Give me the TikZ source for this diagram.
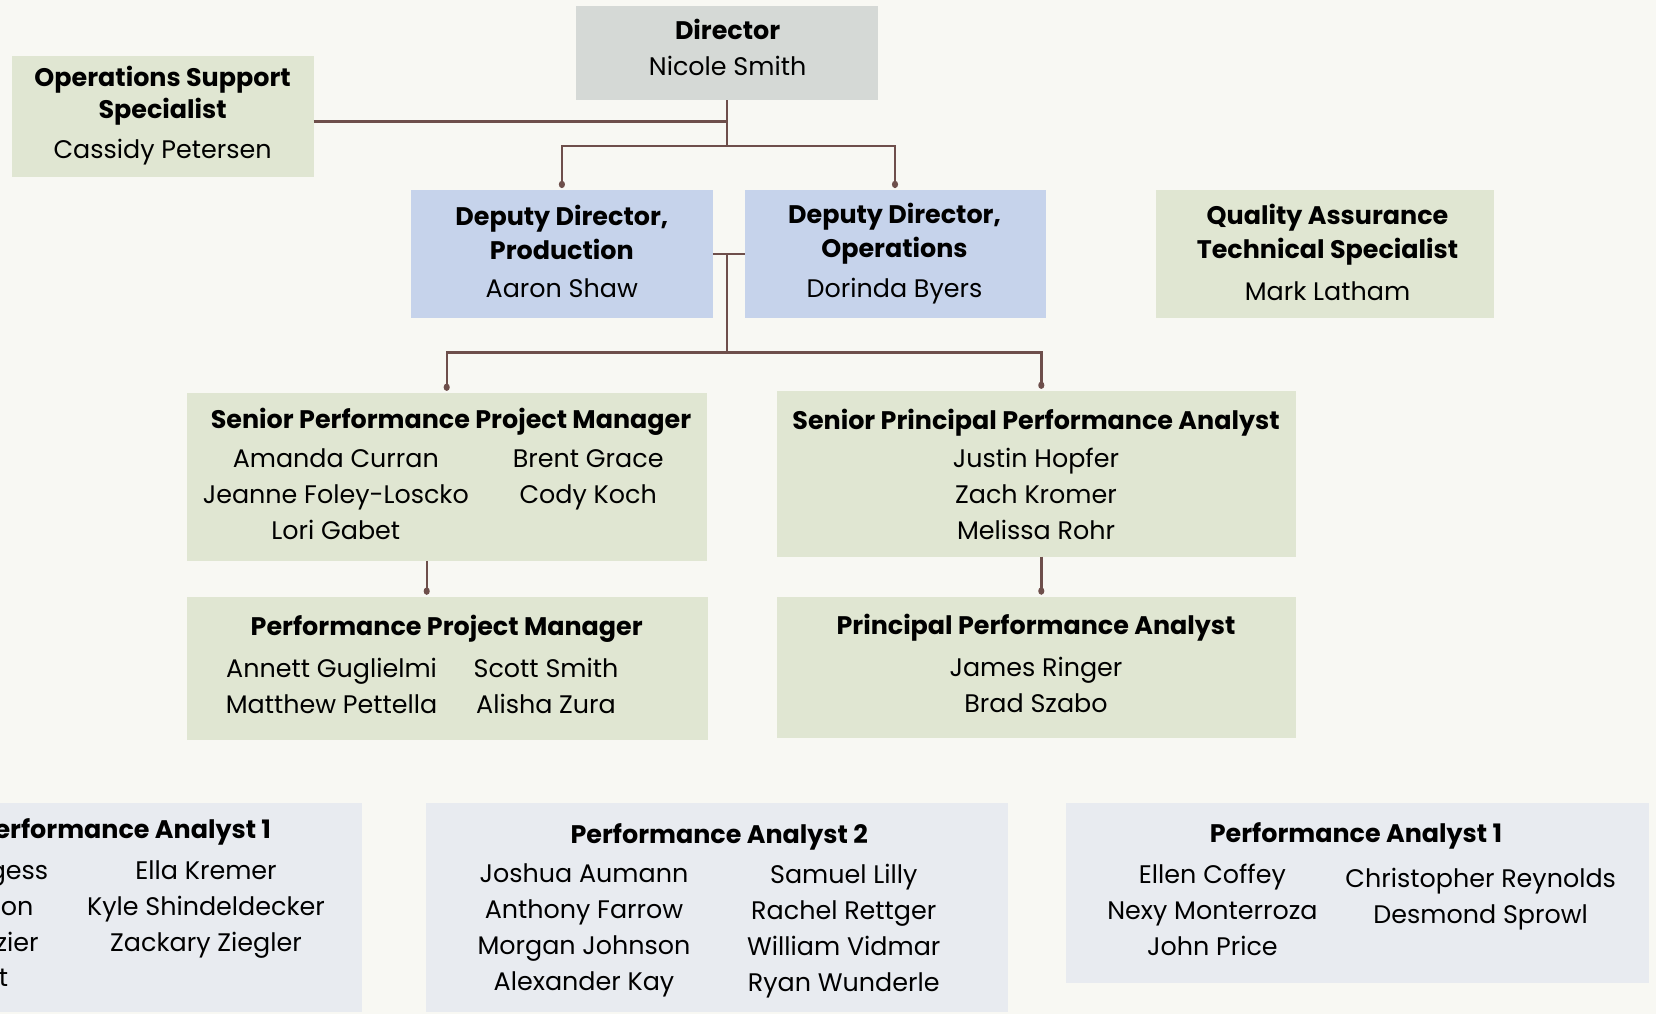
\documentclass[tikz,border=0pt]{standalone}
\usepackage{fontspec}
\setmainfont{Poppins}
\usetikzlibrary{arrows.meta}
\definecolor{bgcol}{HTML}{F8F8F3}
\definecolor{greybox}{HTML}{D5D9D6}
\definecolor{greenbox}{HTML}{E0E6D2}
\definecolor{bluebox}{HTML}{C6D3EB}
\definecolor{palebox}{HTML}{E8EBF0}
\definecolor{linkcol}{HTML}{6E4F4B}
\tikzstyle{box} = [inner sep=0pt, outer sep=0pt]
\tikzstyle{ttl} = [inner sep=0pt, anchor=mid, yshift=-1.9pt, font=\fontsize{12.7}{15}\selectfont\bfseries]
\tikzstyle{nm} = [inner sep=0pt, anchor=mid, yshift=-1.9pt, font=\fontsize{12.7}{15}\selectfont]
\tikzstyle{link} = [draw=linkcol, line width=1.2pt]
\tikzstyle{tolink} = [link, -{Circle[length=3.6pt,width=3pt]}, shorten >=1pt]

\begin{document}
\begin{tikzpicture}[x=0.5pt,y=-0.5pt]
    \useasboundingbox (0,0) rectangle (1656,1014);
    \fill[bgcol] (0,0) rectangle (1656,1014);
    \clip (0,0) rectangle (1656,1014);
    % Top level
    \node[box,fill=greybox,minimum width=151pt,minimum height=47pt] (dir) at (727,53.3) {};
    \node[ttl] (dirt) at (727.6,30.6) {Director};
    \node[nm] (dirn) at (727.6,66.5) {Nicole Smith};
    \node[box,fill=greenbox,minimum width=151pt,minimum height=60.7pt] (ops) at (162.6,116.7) {};
    \node[ttl] (opst1) at (162.6,77.1) {Operations Support};
    \node[ttl] (opst2) at (162.6,108.8) {Specialist};
    \node[nm] (opsn) at (162.6,148.9) {Cassidy Petersen};
    % Deputies
    \node[box,fill=bluebox,minimum width=151pt,minimum height=64pt] (dpl) at (561.9,254) {};
    \node[ttl] (dplt1) at (561.8,216.5) {Deputy Director,};
    \node[ttl] (dplt2) at (561.8,250.3) {Production};
    \node[nm] (dpln) at (561.8,288.3) {Aaron Shaw};
    \node[box,fill=bluebox,minimum width=150.5pt,minimum height=64pt] (dpr) at (895,254) {};
    \node[ttl] (dprt1) at (894.5,214.4) {Deputy Director,};
    \node[ttl] (dprt2) at (894.5,248.2) {Operations};
    \node[nm] (dprn) at (894.5,288.3) {Dorinda Byers};
    \node[box,fill=greenbox,minimum width=169pt,minimum height=64pt] (qa) at (1325.4,254) {};
    \node[ttl] (qat1) at (1327.5,215.4) {Quality Assurance};
    \node[ttl] (qat2) at (1327.5,249.2) {Technical Specialist};
    \node[nm] (qan) at (1327.5,291.5) {Mark Latham};
    % Senior level
    \node[box,fill=greenbox,minimum width=259.8pt,minimum height=84pt] (sppm) at (446.7,476.8) {};
    \node[ttl] (sppmt) at (451,419.3) {Senior Performance Project Manager};
    \node[nm] (sppm1) at (335.8,458.3) {Amanda Curran};
    \node[nm] (sppm2) at (335.8,494.3) {Jeanne Foley-Loscko};
    \node[nm] (sppm3) at (335.8,530.2) {Lori Gabet};
    \node[nm] (sppm4) at (588.2,458.3) {Brent Grace};
    \node[nm] (sppm5) at (588.2,494.3) {Cody Koch};
    \node[box,fill=greenbox,minimum width=259.3pt,minimum height=82.9pt] (sppa) at (1036.5,473.7) {};
    \node[ttl] (sppat) at (1036,420.3) {Senior Principal Performance Analyst};
    \node[nm] (sppa1) at (1036,458.3) {Justin Hopfer};
    \node[nm] (sppa2) at (1036,494.3) {Zach Kromer};
    \node[nm] (sppa3) at (1036,530.2) {Melissa Rohr};
    % Middle level
    \node[box,fill=greenbox,minimum width=260.4pt,minimum height=71.8pt] (ppm) at (447.2,668.5) {};
    \node[ttl] (ppmt) at (446.7,626.3) {Performance Project Manager};
    \node[nm] (ppm1) at (331.6,668.5) {Annett Guglielmi};
    \node[nm] (ppm2) at (331.6,704.4) {Matthew Pettella};
    \node[nm] (ppm3) at (546,668.5) {Scott Smith};
    \node[nm] (ppm4) at (546,704.4) {Alisha Zura};
    \node[box,fill=greenbox,minimum width=259.3pt,minimum height=70.8pt] (ppa) at (1036.5,667.4) {};
    \node[ttl] (ppat) at (1036,625.2) {Principal Performance Analyst};
    \node[nm] (ppa1) at (1036,667.5) {James Ringer};
    \node[nm] (ppa2) at (1036,703.4) {Brad Szabo};
    % Analysts
    \node[box,fill=palebox,minimum width=191.1pt,minimum height=104.7pt] (paa) at (171.1,907.3) {};
    \node[ttl,anchor=mid east] (paat) at (271.4,829) {erformance Analyst 1};
    \node[nm,anchor=mid east] (paa1) at (48.6,870.2) {gess};
    \node[nm,anchor=mid east] (paa2) at (33.8,906.1) {on};
    \node[nm,anchor=mid east] (paa3) at (39,942) {zier};
    \node[nm,anchor=mid east] (paa4) at (8.4,977) {t};
    \node[nm] (paa5) at (206,870.2) {Ella Kremer};
    \node[nm] (paa6) at (206,906.1) {Kyle Shindeldecker};
    \node[nm] (paa7) at (206,942) {Zackary Ziegler};
    \node[box,fill=palebox,minimum width=291pt,minimum height=104.7pt] (pab) at (716.5,907.3) {};
    \node[ttl] (pabt) at (719.2,834.3) {Performance Analyst 2};
    \node[nm] (pab1) at (584,873.4) {Joshua Aumann};
    \node[nm] (pab2) at (584,909.3) {Anthony Farrow};
    \node[nm] (pab3) at (584,945.2) {Morgan Johnson};
    \node[nm] (pab4) at (584,981.1) {Alexander Kay};
    \node[nm] (pab5) at (843.8,874.5) {Samuel Lilly};
    \node[nm] (pab6) at (843.8,910.4) {Rachel Rettger};
    \node[nm] (pab7) at (843.8,946.3) {William Vidmar};
    \node[nm] (pab8) at (843.8,982.2) {Ryan Wunderle};
    \node[box,fill=palebox,minimum width=291.5pt,minimum height=90.3pt] (pac) at (1357.1,892.9) {};
    \node[ttl] (pact) at (1356,833.3) {Performance Analyst 1};
    \node[nm] (pac1) at (1212.4,874.5) {Ellen Coffey};
    \node[nm] (pac2) at (1212.4,910.4) {Nexy Monterroza};
    \node[nm] (pac3) at (1212.4,946.3) {John Price};
    \node[nm] (pac4) at (1480.7,878.7) {Christopher Reynolds};
    \node[nm] (pac5) at (1480.7,914.6) {Desmond Sprowl};
    % Connectors
    \coordinate (bus1) at (727,145.7);
    \coordinate (bus2) at (727,352.5);
    \coordinate (opsjoin) at (727,121.5);
    \draw[link] (dir.south) -- (bus1);
    \draw[link] (ops.east |- opsjoin) -- (opsjoin);
    \draw[tolink] (bus1) -| (dpl.north);
    \draw[tolink] (bus1) -| (dpr.north);
    \draw[link] (dpl.east) -- (dpr.west);
    \draw[link] (dpl.east -| bus2) -- (bus2);
    \draw[tolink] (bus2) -| (sppm.north);
    \draw[tolink] (bus2) -| ([xshift=2.4pt]sppa.north);
    \draw[tolink] ([xshift=-10pt]sppm.south) -- ([xshift=-10pt]sppm.south |- ppm.north);
    \draw[tolink] ([xshift=2.4pt]sppa.south) -- ([xshift=2.4pt]sppa.south |- ppa.north);
\end{tikzpicture}
\end{document}
